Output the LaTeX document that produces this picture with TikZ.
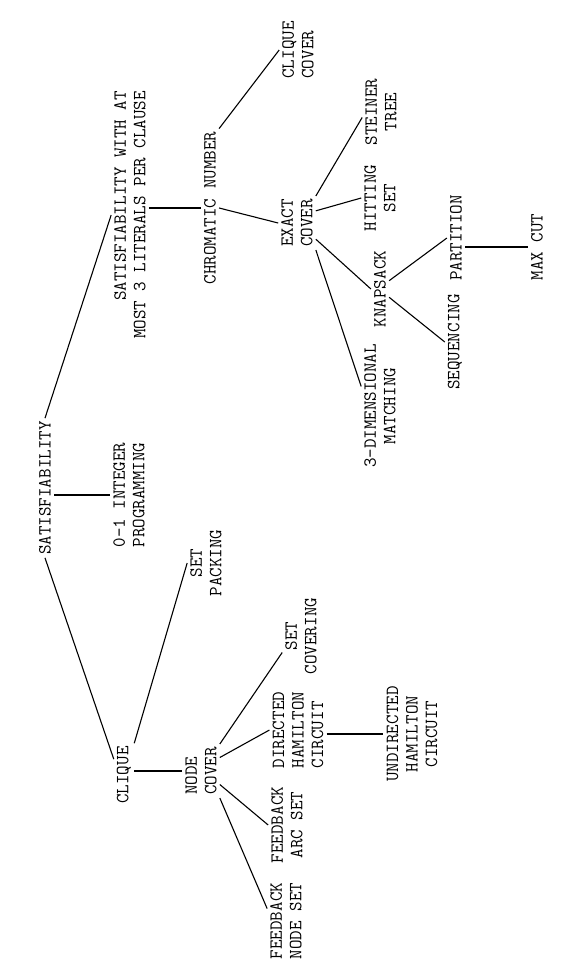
\documentclass[tikz,border=0pt]{standalone}
\usepackage{fontspec}
\usetikzlibrary{calc}
\begin{document}
\begin{tikzpicture}[x=1pt,y=-1pt,
  lbl/.style={rotate=90, font=\ttfamily\fontsize{18.5}{19.5}\selectfont\addfontfeatures{FakeBold=1.5}, inner sep=3pt, align=center},
  link/.style={line width=1.1pt, black}]
\useasboundingbox (0,0) rectangle (565,971);
% nodes
\node[lbl] (sat) at (45,488) {SATISFIABILITY};
\node[lbl,align=right] (sat3) at (130,215) {SATISFIABILITY WITH AT\\MOST 3 LITERALS PER CLAUSE};
\node[lbl] (chrom) at (210,208) {CHROMATIC NUMBER};
\node[lbl,align=left] (cc) at (298,50) {CLIQUE\\COVER};
\node[lbl] (exact) at (297,223) {EXACT\\COVER};
\node[lbl] (steiner) at (381,112) {STEINER\\TREE};
\node[lbl] (hitting) at (380,198) {HITTING\\SET};
\node[lbl] (knap) at (380,289) {KNAPSACK};
\node[lbl] (part) at (456,238) {PARTITION};
\node[lbl] (maxcut) at (537,247) {MAX CUT};
\node[lbl] (seq) at (455,342) {SEQUENCING};
\node[lbl] (tdm) at (380,406) {3-DIMENSIONAL\\MATCHING};
\node[lbl,align=left] (zoi) at (129,495) {0-1 INTEGER\\PROGRAMMING};
\node[lbl] (setpack) at (206,563) {SET\\PACKING};
\node[lbl] (clique) at (124,775) {CLIQUE};
\node[lbl,align=left] (nc) at (201,771) {NODE\\COVER};
\node[lbl] (fvs) at (286,921) {FEEDBACK\\NODE SET};
\node[lbl] (fas) at (287,825) {FEEDBACK\\ARC SET};
\node[lbl,align=left] (dhc) at (298,730) {DIRECTED\\HAMILTON\\CIRCUIT};
\node[lbl] (setcov) at (301,636) {SET\\COVERING};
\node[lbl] (uhc) at (412,734) {UNDIRECTED\\HAMILTON\\CIRCUIT};
% connectors
\draw[link] (sat.east) -- (sat3.north);
\draw[link] (sat.west) -- ($(clique.north)!0.5!(clique.north east)$);
\draw[link] (sat.south |- zoi.north) -- (zoi.north);
\draw[link] (sat3.south |- chrom.north) -- (chrom.north);
\draw[link] (chrom.south east) -- (cc.north);
\draw[link] (chrom.south) -- (exact.north);
\draw[link] (exact.south east) -- ($(steiner.north)!0.15!(steiner.north west)$);
\draw[link] ($(exact.south)!0.45!(exact.south east)$) -- (hitting.north);
\draw[link] ($(exact.south)!0.6!(exact.south west)$) -- (knap.north);
\draw[link] (exact.south west) -- ($(tdm.north)!0.3!(tdm.north east)$);
\draw[link] ($(knap.south)!0.2!(knap.south east)$) -- (part.north);
\draw[link] ($(knap.south)!0.2!(knap.south west)$) -- (seq.north);
\draw[link] (part.south |- maxcut.north) -- (maxcut.north);
\draw[link] (clique.south east) -- (setpack.north);
\draw[link] (clique.south |- nc.north) -- (nc.north);
\draw[link] (nc.south east) -- ($(setcov.north)!0.4!(setcov.north west)$);
\draw[link] ($(nc.south)!0.5!(nc.south east)$) -- (dhc.north);
\draw[link] ($(nc.south)!0.5!(nc.south west)$) -- (fas.north);
\draw[link] (nc.south west) -- ($(fvs.north)!0.3!(fvs.north east)$);
\draw[link] (dhc.south |- uhc.north) -- (uhc.north);
\end{tikzpicture}
\end{document}
